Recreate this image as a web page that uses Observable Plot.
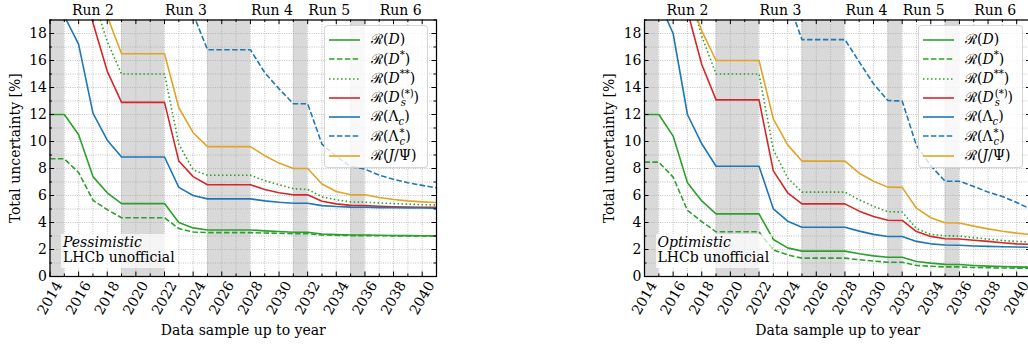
<!DOCTYPE html>
<html>
<head>
<meta charset="utf-8">
<script src="https://cdn.jsdelivr.net/npm/d3@7"></script>
<script src="https://cdn.jsdelivr.net/npm/@observablehq/plot@0.6"></script>
<style>
html,body{margin:0;padding:0;background:#fff;overflow:hidden;width:1028px;height:346px}
#wrap{position:relative;width:1028px;height:346px;overflow:hidden}
.panel{position:absolute;top:0}
.legend{position:absolute;top:25px;height:143px;box-sizing:border-box;padding-top:4.3px;background:rgba(255,255,255,0.8);border:1px solid rgba(204,204,204,0.8);border-radius:4px;color:#000}
.row{display:flex;align-items:center;height:19.3px;line-height:19.3px;white-space:nowrap}
.row svg{margin-left:4px;margin-right:11px;flex:none}
.row sup,.row sub{font-size:0.72em;line-height:0}
.ss{display:inline-flex;flex-direction:column;vertical-align:middle;line-height:9px;font-size:0.72em;margin-left:1px}
.note{position:absolute;padding:1px 3px 3px 2px;background:rgba(255,255,255,0.72);line-height:15px;color:#000;white-space:nowrap}
</style>
</head>
<body>
<div id="wrap"></div>
<script>
// ---------- data ----------
const years = d3.range(2014, 2042);
// shutdown (grey) periods
const shutStart = [2014, 2019, 2025, 2031, 2035];
const shutEnd   = [2015, 2022, 2028, 2032, 2036];
// run labels
const runNames = ["Run 2", "Run 3", "Run 4", "Run 5", "Run 6"];
const runMid   = [2017, 2023.5, 2029.5, 2033.5, 2038.5];
// tick values
const xMajor = d3.range(2014, 2041, 2);
const xMinor = d3.range(2015, 2042, 2);
const yMajor = d3.range(0, 19, 2);
const yMinor = d3.range(1, 20, 2);
const xAll = years;
const yAll = d3.range(0, 20, 1);

// Pessimistic scenario (total uncertainty, %), per year 2014..2041
const pD    = [12.0,12.0,10.5,7.4,6.2,5.4,5.4,5.4,5.4,4.0,3.6,3.45,3.45,3.45,3.45,3.38,3.33,3.28,3.28,3.15,3.1,3.07,3.07,3.05,3.04,3.03,3.02,3.01];
const pDst  = [8.72,8.72,7.7,5.65,4.95,4.35,4.35,4.35,4.35,3.55,3.3,3.25,3.25,3.25,3.25,3.22,3.2,3.17,3.17,3.08,3.05,3.03,3.03,3.02,3.01,3.01,3.0,3.0];
const pDss  = [null,null,null,20.7,17.4,15.0,15.0,15.0,15.0,9.8,7.9,7.5,7.5,7.5,7.5,7.1,6.8,6.5,6.45,5.9,5.68,5.53,5.5,5.45,5.4,5.36,5.32,5.3];
const pDs   = [null,null,26,18.8,15.2,12.9,12.9,12.9,12.9,8.55,7.4,6.8,6.8,6.8,6.8,6.45,6.2,6.05,6.05,5.58,5.38,5.27,5.25,5.2,5.17,5.15,5.13,5.12];
const pLc   = [19.3,19.3,17.2,12.1,10.1,8.85,8.85,8.85,8.85,6.6,6.0,5.75,5.75,5.75,5.75,5.6,5.5,5.43,5.43,5.25,5.18,5.14,5.13,5.1,5.09,5.08,5.07,5.06];
const pLcst = [null,null,null,null,null,null,null,null,null,null,19.45,16.8,16.8,16.8,16.8,15.1,13.9,12.8,12.8,9.8,8.9,8.15,7.95,7.5,7.2,6.95,6.75,6.57];
const pJpsi = [null,null,null,null,19.28,16.5,16.5,16.5,16.5,12.5,10.65,9.62,9.62,9.62,9.62,8.95,8.4,8.0,8.0,6.85,6.3,6.05,6.05,5.85,5.7,5.6,5.53,5.48];

// Optimistic scenario
const oD    = [12.0,12.0,10.4,6.95,5.6,4.64,4.64,4.64,4.64,2.74,2.12,1.88,1.88,1.88,1.88,1.68,1.53,1.43,1.43,1.11,0.99,0.9,0.89,0.82,0.77,0.74,0.71,0.69];
const oDst  = [8.47,8.47,7.36,4.9,4.07,3.31,3.31,3.31,3.31,1.97,1.6,1.36,1.36,1.36,1.36,1.24,1.14,1.06,1.06,0.82,0.76,0.71,0.71,0.67,0.65,0.63,0.62,0.61];
const oDss  = [null,null,null,21.5,17.8,15.0,15.0,15.0,15.0,9.4,7.3,6.25,6.25,6.25,6.25,5.68,5.2,4.8,4.78,3.55,3.12,3.02,3.0,2.88,2.77,2.67,2.6,2.56];
const oDs   = [null,null,27,19.66,15.7,13.08,13.08,13.08,13.08,7.82,6.2,5.38,5.38,5.38,5.38,4.84,4.45,4.17,4.15,3.33,2.97,2.8,2.78,2.68,2.6,2.5,2.42,2.38];
const oLc   = [20.4,20.4,18.0,12.0,9.83,8.17,8.17,8.17,8.17,5.01,4.1,3.65,3.65,3.65,3.65,3.36,3.12,2.96,2.96,2.6,2.42,2.33,2.31,2.26,2.23,2.2,2.18,2.17];
const oLcst = [null,null,null,null,null,null,null,null,null,null,20.5,17.55,17.55,17.55,17.55,15.9,14.27,13.04,13.0,9.7,8.2,7.06,7.06,6.67,6.25,5.93,5.48,4.98];
const oJpsi = [null,null,null,21.0,18.2,16.0,16.0,16.0,16.0,11.68,9.75,8.55,8.55,8.55,8.55,7.65,7.06,6.62,6.6,5.06,4.35,3.98,3.96,3.73,3.53,3.35,3.21,3.11];

const seriesKeys = ["D", "Dst", "Dss", "Ds", "Lc", "Lcst", "Jpsi"];
const seriesColor = {D:"#2ca02c", Dst:"#2ca02c", Dss:"#2ca02c", Ds:"#d62728", Lc:"#1f77b4", Lcst:"#1f77b4", Jpsi:"#e0a526"};
const seriesDash  = {D:null, Dst:"5.5,2.4", Dss:"1.5,2.5", Ds:null, Lc:null, Lcst:"5.5,2.4", Jpsi:null};
const legendHTML = {
  D:    "ℛ(<i>D</i>)",
  Dst:  "ℛ(<i>D</i><sup>*</sup>)",
  Dss:  "ℛ(<i>D</i><sup>**</sup>)",
  Ds:   "ℛ(<i>D</i><span class='ss'><span>(*)</span><span><i>s</i></span></span>)",
  Lc:   "ℛ(Λ<sub><i>c</i></sub>)",
  Lcst: "ℛ(Λ<span class='ss'><span>*</span><span><i>c</i></span></span>)",
  Jpsi: "ℛ(<i>J</i>/Ψ)"
};

const pess = {D:pD, Dst:pDst, Dss:pDss, Ds:pDs, Lc:pLc, Lcst:pLcst, Jpsi:pJpsi};
const opti = {D:oD, Dst:oDst, Dss:oDss, Ds:oDs, Lc:oLc, Lcst:oLcst, Jpsi:oJpsi};

const yLabel = "Total uncertainty [%]";
const xLabel = "Data sample up to year";

// ---------- font choice (serif) ----------
function hasFont(name) {
  const c = document.createElement("canvas").getContext("2d");
  const s = "Run 2 Data sample 0123456789 Wxyz";
  for (const fb of ["monospace", "sans-serif"]) {
    c.font = `40px ${fb}`;
    const a = c.measureText(s).width;
    c.font = `40px "${name}", ${fb}`;
    const b = c.measureText(s).width;
    if (Math.abs(a - b) > 0.5) return true;
  }
  return false;
}
let FONT = "DejaVu Serif", FS = 14;
if (!hasFont("DejaVu Serif")) {
  if (hasFont("Liberation Serif")) { FONT = "Liberation Serif"; FS = 16; }
}
const FONTCSS = `"${FONT}", serif`;
document.getElementById("wrap").style.fontFamily = FONTCSS;
document.getElementById("wrap").style.fontSize = FS + "px";

// ---------- layout ----------
const H = 346, MT = 19.5, MB = 70;
const PH = H - MT - MB, PW = 386.5;

function makePanel(S, ml, mr) {
  const shut = shutStart.map((s, i) => ({x1: s, x2: shutEnd[i]}));
  const gridStyle = {stroke: "#a8a8a8", strokeOpacity: 1, strokeWidth: 0.8, strokeDasharray: "0.9,1.4"};
  const lines = seriesKeys.map(k => Plot.line(
    years.map((yr, i) => ({year: yr, v: S[k][i]})),
    {x: "year", y: "v", stroke: seriesColor[k], strokeWidth: 1.6, strokeDasharray: seriesDash[k] || undefined,
     strokeLinecap: "butt", strokeLinejoin: "round", clip: true}
  ));
  const tk = {stroke: "#000", strokeWidth: 1};
  const txt = {fontSize: FS, fill: "#000", fontFamily: FONTCSS};
  return Plot.plot({
    width: ml + PW + mr, height: H,
    marginTop: MT, marginBottom: MB, marginLeft: ml, marginRight: mr,
    x: {domain: [2014, 2041], axis: null},
    y: {domain: [0, 19], axis: null},
    style: {fontFamily: FONTCSS, fontSize: FS + "px", background: "transparent", color: "#000", overflow: "visible"},
    marks: [
      Plot.rect(shut, {x1: "x1", x2: "x2", fill: "#d9d9d9"}),
      Plot.gridX(xAll, gridStyle),
      Plot.gridY(yAll, gridStyle),
      ...lines,
      Plot.frame({stroke: "#000", strokeWidth: 1.25}),
      // inward ticks, all four sides
      Plot.ruleX(xMajor, {x: d => d, insetTop: PH - 4.5, ...tk}),
      Plot.ruleX(xMinor, {x: d => d, insetTop: PH - 2.5, ...tk}),
      Plot.ruleX(xMajor, {x: d => d, insetBottom: PH - 4.5, ...tk}),
      Plot.ruleX(xMinor, {x: d => d, insetBottom: PH - 2.5, ...tk}),
      Plot.ruleY(yMajor, {y: d => d, insetRight: PW - 4.5, ...tk}),
      Plot.ruleY(yMinor, {y: d => d, insetRight: PW - 2.5, ...tk}),
      Plot.ruleY(yMajor, {y: d => d, insetLeft: PW - 4.5, ...tk}),
      Plot.ruleY(yMinor, {y: d => d, insetLeft: PW - 2.5, ...tk}),
      // tick labels
      Plot.text(yMajor, {y: d => d, text: d => String(d), frameAnchor: "left", textAnchor: "end", dx: -3, ...txt}),
      Plot.text(xMajor, {x: d => d, text: d => String(d), frameAnchor: "bottom", rotate: -60, dy: 21.5, textAnchor: "middle", lineAnchor: "middle", ...txt}),
      // run labels
      Plot.text(runNames, {x: (d, i) => runMid[i], text: d => d, frameAnchor: "top", dy: -9.5, lineAnchor: "middle", ...txt}),
      // axis titles
      Plot.text([yLabel], {text: d => d, frameAnchor: "left", rotate: -90, dx: -34.5, textAnchor: "middle", lineAnchor: "middle", ...txt}),
      Plot.text([xLabel], {text: d => d, frameAnchor: "bottom", dy: 54.5, textAnchor: "middle", lineAnchor: "middle", ...txt})
    ]
  });
}

function makeLegend(left, width) {
  const div = document.createElement("div");
  div.className = "legend";
  div.style.left = left + "px";
  div.style.width = width + "px";
  seriesKeys.forEach(k => {
    const row = document.createElement("div");
    row.className = "row";
    const dash = seriesDash[k] ? `stroke-dasharray="${seriesDash[k]}"` : "";
    row.innerHTML = `<svg width="31" height="8"><line x1="0" x2="31" y1="4" y2="4" stroke="${seriesColor[k]}" stroke-width="1.6" ${dash}/></svg><span>${legendHTML[k]}</span>`;
    div.appendChild(row);
  });
  return div;
}

function makeNote(left, top, scenario) {
  const div = document.createElement("div");
  div.className = "note";
  div.style.left = left + "px";
  div.style.top = top + "px";
  div.innerHTML = `<i>${scenario}</i><br>LHCb unofficial`;
  return div;
}

const wrap = document.getElementById("wrap");
const left = makePanel(pess, 49.5, 78);
left.classList.add("panel"); left.style.left = "0px";
const right = makePanel(opti, 130, 0);
right.classList.add("panel"); right.style.left = "514px";
wrap.appendChild(left);
wrap.appendChild(right);
wrap.appendChild(makeLegend(324, 104));
wrap.appendChild(makeLegend(918, 105));
wrap.appendChild(makeNote(61, 234, "Pessimistic"));
wrap.appendChild(makeNote(655.5, 234, "Optimistic"));
</script>
</body>
</html>
